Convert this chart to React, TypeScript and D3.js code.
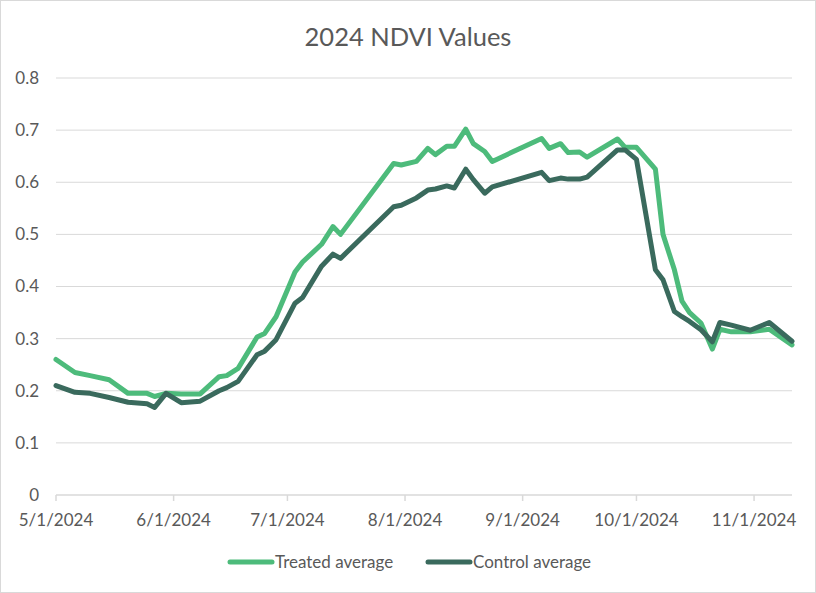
import React from 'react';
import * as d3 from 'd3';

const dates = [
  '2024-05-01', '2024-05-06', '2024-05-10', '2024-05-15', '2024-05-20', '2024-05-25',
  '2024-05-27', '2024-05-30', '2024-06-03', '2024-06-08', '2024-06-13', '2024-06-15',
  '2024-06-18', '2024-06-23', '2024-06-25', '2024-06-28', '2024-07-03', '2024-07-05',
  '2024-07-10', '2024-07-13', '2024-07-15', '2024-07-29', '2024-07-31', '2024-08-04',
  '2024-08-07', '2024-08-09', '2024-08-12', '2024-08-14', '2024-08-17', '2024-08-19',
  '2024-08-22', '2024-08-24', '2024-09-06', '2024-09-08', '2024-09-11', '2024-09-13',
  '2024-09-16', '2024-09-18', '2024-09-26', '2024-09-28', '2024-10-01', '2024-10-06',
  '2024-10-08', '2024-10-11', '2024-10-13', '2024-10-15', '2024-10-18', '2024-10-21',
  '2024-10-23', '2024-10-26', '2024-10-31', '2024-11-05', '2024-11-11',
];

const treated = [
  0.260, 0.235, 0.229, 0.221, 0.195, 0.195,
  0.189, 0.195, 0.194, 0.194, 0.227, 0.229,
  0.243, 0.303, 0.310, 0.342, 0.428, 0.447,
  0.481, 0.515, 0.500, 0.636, 0.633, 0.640,
  0.665, 0.653, 0.669, 0.669, 0.702, 0.674,
  0.659, 0.640, 0.684, 0.665, 0.674, 0.657,
  0.658, 0.648, 0.683, 0.667, 0.667, 0.625,
  0.500, 0.432, 0.372, 0.350, 0.330, 0.280,
  0.318, 0.313, 0.313, 0.318, 0.288,
];

const control = [
  0.210, 0.197, 0.195, 0.187, 0.178, 0.175,
  0.168, 0.195, 0.177, 0.180, 0.200, 0.206,
  0.218, 0.269, 0.276, 0.298, 0.368, 0.379,
  0.439, 0.462, 0.454, 0.553, 0.556, 0.570,
  0.585, 0.587, 0.593, 0.589, 0.625, 0.605,
  0.579, 0.591, 0.619, 0.603, 0.608, 0.606,
  0.606, 0.610, 0.662, 0.662, 0.644, 0.432,
  0.413, 0.352, 0.342, 0.333, 0.317, 0.294,
  0.331, 0.326, 0.316, 0.331, 0.295,
];

const yTicks = [0, 0.1, 0.2, 0.3, 0.4, 0.5, 0.6, 0.7, 0.8];
const xTicks = ['2024-05-01', '2024-06-01', '2024-07-01', '2024-08-01', '2024-09-01', '2024-10-01', '2024-11-01'];

const seriesNames = ['Treated average', 'Control average'];
const seriesColors = ['#4dbb7b', '#3a6a5d'];

const W = 816;
const H = 593;
const FONT = 'Lato, "Open Sans", sans-serif';
const TEXT = '#595959';
const GRID = '#d9d9d9';

const parse = d3.timeParse('%Y-%m-%d');
const fmt = d3.timeFormat('%-m/%-d/%Y');

export default function App() {
  const parsed = dates.map(d => parse(d) as Date);

  const x = d3.scaleTime()
    .domain(d3.extent(parsed) as [Date, Date])
    .range([56, 792]);
  const y = d3.scaleLinear().domain([0, 0.8]).range([495, 78]);

  const line = d3.line<number>()
    .x((_, i) => x(parsed[i]))
    .y(v => y(v));

  const series = [treated, control];

  return (
    <svg width={W} height={H} style={{ position: 'absolute', left: 0, top: 0, background: '#fff' }}>
      <rect x={0.5} y={0.5} width={W - 1} height={H - 1} fill="#fff" stroke={GRID} />

      <text x={408} y={46} textAnchor="middle" fontFamily={FONT} fontSize={25.5} fill={TEXT}>
        2024 NDVI Values
      </text>

      {/* gridlines + y labels */}
      {yTicks.map(t => (
        <g key={t}>
          {t > 0 && <line x1={56} x2={792} y1={y(t)} y2={y(t)} stroke={GRID} strokeWidth={1} />}
          <text x={39} y={y(t)} dy="0.35em" textAnchor="end" fontFamily={FONT} fontSize={17} fill={TEXT}>
            {t === 0 ? '0' : t.toFixed(1)}
          </text>
        </g>
      ))}

      {/* x axis */}
      <line x1={56} x2={792} y1={y(0)} y2={y(0)} stroke={GRID} strokeWidth={1.5} />
      {xTicks.map(t => {
        const d = parse(t) as Date;
        return (
          <g key={t} transform={`translate(${x(d)},0)`}>
            <line y1={y(0)} y2={y(0) + 6} stroke={GRID} strokeWidth={1.5} />
            <text y={526} textAnchor="middle" fontFamily={FONT} fontSize={17} fill={TEXT}>
              {fmt(d)}
            </text>
          </g>
        );
      })}

      {/* series */}
      {series.map((s, i) => (
        <path key={i} d={line(s) as string} fill="none" stroke={seriesColors[i]}
          strokeWidth={5} strokeLinejoin="round" strokeLinecap="round" />
      ))}

      {/* legend */}
      {seriesNames.map((n, i) => {
        const lx = i === 0 ? 230 : 428;
        return (
          <g key={n}>
            <line x1={lx} x2={lx + 42} y1={562} y2={562} stroke={seriesColors[i]} strokeWidth={5} strokeLinecap="round" />
            <text x={lx + 45} y={562} dy="0.35em" fontFamily={FONT} fontSize={17} fill={TEXT}>{n}</text>
          </g>
        );
      })}
    </svg>
  );
}
